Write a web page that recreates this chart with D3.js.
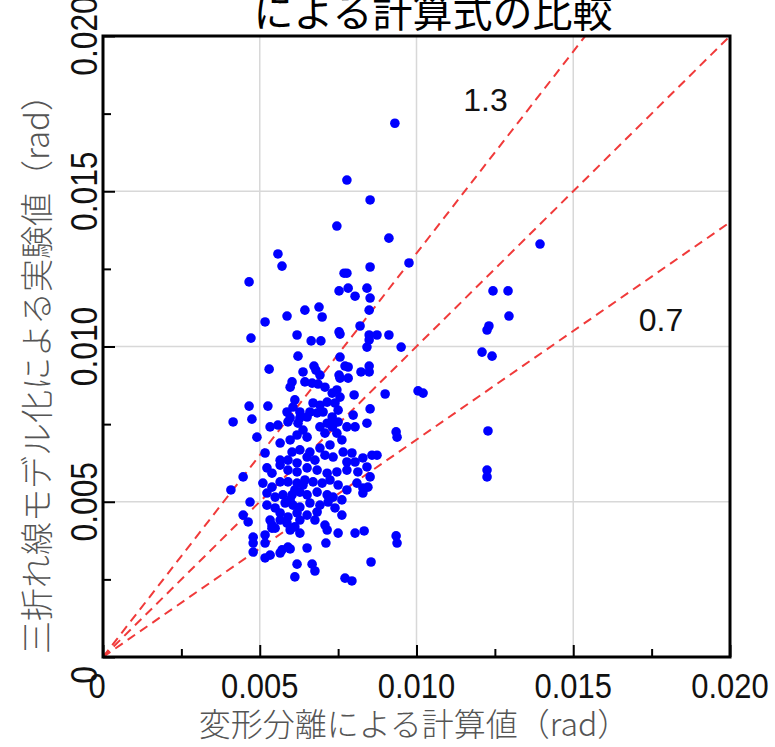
<!DOCTYPE html>
<html>
<head>
<meta charset="utf-8">
<script src="https://cdn.jsdelivr.net/npm/d3@7"></script>
<style>
  body { margin: 0; background: #fff; }
  .tick-label { font-family: "Liberation Sans", Arial, sans-serif; fill: #111; }
  .jp { font-family: "Noto Sans CJK JP", sans-serif; }
</style>
</head>
<body>
<script>
// title and axis titles
var chartTitle = "による計算式の比較";
var xTitle = "変形分離による計算値（rad）";
var yTitle = "三折れ線モデル化による実験値（rad）";

// ticks
var tickValues = [0, 0.005, 0.010, 0.015, 0.020];
var tickLabels = ["0", "0.005", "0.010", "0.015", "0.020"];
var minorTicks = [0.0025, 0.0075, 0.0125, 0.0175];

// ratio lines (calc * ratio)
var ratios = [1.3, 1.0, 0.7];
var ratioLabels = [{ text: "1.3", x: 0.0122, y: 0.0176 }, { text: "0.7", x: 0.0178, y: 0.0105 }];

// measured points: calculated value (x) vs experimental value (y), rad
var xs = [
  0.00931, 0.00778, 0.00852, 0.00746, 0.00912, 0.00558, 0.00571, 0.00466, 0.00769, 0.00778,
  0.00852, 0.00976, 0.00753, 0.00782, 0.00804, 0.00842, 0.00852, 0.00644, 0.00689, 0.00699,
  0.00587, 0.00517, 0.00849, 0.00820, 0.00753, 0.00756, 0.00619, 0.00472, 0.00664, 0.00695,
  0.00849, 0.00874, 0.00849, 0.00912, 0.00842, 0.00951, 0.00622, 0.00756, 0.00530, 0.00673,
  0.00679, 0.00772, 0.00782, 0.00638, 0.00823, 0.00849, 0.00849, 0.00753, 0.00756, 0.00782,
  0.00692, 0.00603, 0.00597, 0.01005, 0.01021, 0.00900, 0.00801, 0.00466, 0.00526, 0.00852,
  0.00415, 0.00475, 0.00842, 0.00935, 0.00938, 0.00491, 0.00533, 0.00558, 0.00565, 0.00447,
  0.00408, 0.00469, 0.00447, 0.00463, 0.00479, 0.00479, 0.00479, 0.00517, 0.00533, 0.00565,
  0.00571, 0.00619, 0.00612, 0.00667, 0.00676, 0.00772, 0.00794, 0.00855, 0.00935, 0.00938,
  0.00804, 0.00833, 0.00750, 0.00711, 0.00628, 0.00590, 0.00597, 0.00651, 0.00517, 0.00517,
  0.00539, 0.00539,
  0.01394, 0.01244, 0.01292, 0.01231, 0.01225, 0.01295, 0.01209, 0.01241, 0.01228, 0.01225,
  0.01225,
  0.00644, 0.00667, 0.00686, 0.00708, 0.00731, 0.00746, 0.00756, 0.00740, 0.00715, 0.00692,
  0.00670, 0.00660, 0.00628, 0.00612, 0.00606, 0.00587, 0.00597, 0.00628, 0.00651, 0.00683,
  0.00702, 0.00731, 0.00750, 0.00750, 0.00731, 0.00715, 0.00798, 0.00804, 0.00778, 0.00590,
  0.00622, 0.00638, 0.00619, 0.00597, 0.00651, 0.00692, 0.00708, 0.00734, 0.00746, 0.00762,
  0.00724, 0.00692, 0.00660, 0.00628, 0.00603, 0.00590, 0.00619, 0.00651, 0.00676, 0.00708,
  0.00734, 0.00766, 0.00794, 0.00778, 0.00804, 0.00829, 0.00858, 0.00874, 0.00842, 0.00852,
  0.00813, 0.00778, 0.00746, 0.00715, 0.00683, 0.00651, 0.00619, 0.00590, 0.00565, 0.00539,
  0.00523, 0.00517, 0.00565, 0.00510, 0.00539, 0.00565, 0.00590, 0.00619, 0.00644, 0.00670,
  0.00699, 0.00724, 0.00750, 0.00778, 0.00810, 0.00829, 0.00845, 0.00829, 0.00523, 0.00549,
  0.00574, 0.00603, 0.00628, 0.00651, 0.00683, 0.00715, 0.00734, 0.00762, 0.00523, 0.00549,
  0.00581, 0.00606, 0.00628, 0.00660, 0.00692, 0.00718, 0.00740, 0.00762, 0.00683, 0.00651,
  0.00619, 0.00590, 0.00565, 0.00533, 0.00587, 0.00612, 0.00676, 0.00708, 0.00715, 0.00549,
  0.00565, 0.00628, 0.00597, 0.00612, 0.00638, 0.00597
];
var ys = [
  0.01719, 0.01536, 0.01472, 0.01388, 0.01349, 0.01298, 0.01259, 0.01208, 0.01236, 0.01236,
  0.01256, 0.01269, 0.01179, 0.01188, 0.01162, 0.01188, 0.01156, 0.01117, 0.01127, 0.01095,
  0.01098, 0.01079, 0.01117, 0.01066, 0.01047, 0.01040, 0.01037, 0.01027, 0.01018, 0.01018,
  0.01037, 0.01037, 0.01021, 0.01037, 0.00998, 0.00998, 0.00969, 0.00966, 0.00927, 0.00937,
  0.00924, 0.00937, 0.00934, 0.00918, 0.00918, 0.00937, 0.00918, 0.00908, 0.00898, 0.00898,
  0.00908, 0.00886, 0.00869, 0.00857, 0.00850, 0.00847, 0.00844, 0.00808, 0.00808, 0.00799,
  0.00757, 0.00766, 0.00753, 0.00725, 0.00708, 0.00708, 0.00741, 0.00747, 0.00689, 0.00580,
  0.00538, 0.00499, 0.00457, 0.00435, 0.00386, 0.00367, 0.00338, 0.00319, 0.00328, 0.00335,
  0.00345, 0.00299, 0.00258, 0.00299, 0.00277, 0.00254, 0.00245, 0.00306, 0.00390, 0.00367,
  0.00399, 0.00406, 0.00399, 0.00367, 0.00399, 0.00354, 0.00348, 0.00351, 0.00393, 0.00367,
  0.00425, 0.00415,
  0.01330, 0.01179, 0.01179, 0.01066, 0.01053, 0.01098, 0.00982, 0.00969, 0.00728, 0.00602,
  0.00580,
  0.00886, 0.00882, 0.00879, 0.00869, 0.00850, 0.00860, 0.00837, 0.00818, 0.00821, 0.00811,
  0.00818, 0.00789, 0.00789, 0.00828, 0.00805, 0.00789, 0.00770, 0.00770, 0.00773, 0.00786,
  0.00789, 0.00773, 0.00795, 0.00757, 0.00741, 0.00753, 0.00779, 0.00741, 0.00741, 0.00757,
  0.00753, 0.00731, 0.00715, 0.00699, 0.00708, 0.00741, 0.00721, 0.00747, 0.00721, 0.00699,
  0.00683, 0.00673, 0.00660, 0.00667, 0.00660, 0.00634, 0.00625, 0.00644, 0.00634, 0.00650,
  0.00644, 0.00660, 0.00657, 0.00628, 0.00628, 0.00641, 0.00650, 0.00650, 0.00612, 0.00580,
  0.00596, 0.00602, 0.00596, 0.00592, 0.00602, 0.00609, 0.00596, 0.00602, 0.00618, 0.00592,
  0.00609, 0.00657, 0.00634, 0.00560, 0.00547, 0.00564, 0.00564, 0.00560, 0.00570, 0.00564,
  0.00560, 0.00570, 0.00554, 0.00538, 0.00560, 0.00544, 0.00547, 0.00528, 0.00528, 0.00515,
  0.00522, 0.00522, 0.00531, 0.00522, 0.00531, 0.00522, 0.00515, 0.00506, 0.00489, 0.00480,
  0.00496, 0.00489, 0.00483, 0.00496, 0.00489, 0.00499, 0.00480, 0.00457, 0.00467, 0.00457,
  0.00464, 0.00451, 0.00464, 0.00441, 0.00431, 0.00419, 0.00441, 0.00425, 0.00409, 0.00415,
  0.00441, 0.00441, 0.00409, 0.00538, 0.00554, 0.00506
];

var width = 775,
    height = 747;

var svg = d3.select("body").append("svg")
    .attr("width", width)
    .attr("height", height);

var x = d3.scaleLinear().domain([0, 0.02]).range([103, 730]);
var y = d3.scaleLinear().domain([0, 0.02]).range([657, 36]);

svg.append("defs").append("clipPath")
    .attr("id", "plotclip")
    .append("rect")
    .attr("x", 103).attr("y", 36)
    .attr("width", 627).attr("height", 621);

// grid
svg.append("g")
    .selectAll("line")
    .data(tickValues.slice(1, 4))
    .enter()
    .append("line")
    .attr("x1", function(d) { return x(d); })
    .attr("x2", function(d) { return x(d); })
    .attr("y1", y(0)).attr("y2", y(0.02))
    .attr("stroke", "#d8d8d8").attr("stroke-width", 1.5);

svg.append("g")
    .selectAll("line")
    .data(tickValues.slice(1, 4))
    .enter()
    .append("line")
    .attr("y1", function(d) { return y(d); })
    .attr("y2", function(d) { return y(d); })
    .attr("x1", x(0)).attr("x2", x(0.02))
    .attr("stroke", "#d8d8d8").attr("stroke-width", 1.5);

// ratio lines
var lineGen = d3.line()
    .x(function(d) { return x(d[0]); })
    .y(function(d) { return y(d[1]); });

svg.append("g")
    .attr("clip-path", "url(#plotclip)")
    .selectAll("path")
    .data(ratios)
    .enter()
    .append("path")
    .attr("d", function(r) { return lineGen([[0, 0], [0.02, 0.02 * r]]); })
    .attr("fill", "none")
    .attr("stroke", "#f03a3a")
    .attr("stroke-width", 2)
    .attr("stroke-dasharray", "9,6");

// points
var pts = xs.map(function(v, i) { return [v, ys[i]]; });
svg.append("g")
    .selectAll("circle")
    .data(pts)
    .enter()
    .append("circle")
    .attr("cx", function(d) { return x(d[0]); })
    .attr("cy", function(d) { return y(d[1]); })
    .attr("r", 4.8)
    .attr("fill", "#0000ff");

// axes: ticks pointing inward
var xAxis = d3.axisTop(x).tickValues(tickValues).tickSize(12).tickFormat("");
svg.append("g").attr("transform", "translate(0," + y(0) + ")").call(xAxis)
    .call(function(g) { g.select(".domain").remove(); })
    .selectAll("line").attr("stroke", "#000").attr("stroke-width", 2);
svg.append("g").attr("transform", "translate(0," + y(0) + ")")
    .call(d3.axisTop(x).tickValues(minorTicks).tickSize(8).tickFormat(""))
    .call(function(g) { g.select(".domain").remove(); })
    .selectAll("line").attr("stroke", "#000").attr("stroke-width", 2);

var yAxis = d3.axisRight(y).tickValues(tickValues).tickSize(12).tickFormat("");
svg.append("g").attr("transform", "translate(" + x(0) + ",0)").call(yAxis)
    .call(function(g) { g.select(".domain").remove(); })
    .selectAll("line").attr("stroke", "#000").attr("stroke-width", 2);
svg.append("g").attr("transform", "translate(" + x(0) + ",0)")
    .call(d3.axisRight(y).tickValues(minorTicks).tickSize(8).tickFormat(""))
    .call(function(g) { g.select(".domain").remove(); })
    .selectAll("line").attr("stroke", "#000").attr("stroke-width", 2);

// frame
svg.append("rect")
    .attr("x", 103).attr("y", 36)
    .attr("width", 627).attr("height", 621)
    .attr("fill", "none")
    .attr("stroke", "#000")
    .attr("stroke-width", 3);

// x tick labels (condensed digits)
svg.append("g")
    .selectAll("text")
    .data(tickValues)
    .enter()
    .append("text")
    .attr("class", "tick-label")
    .attr("transform", function(d, i) {
      var xx = i == 0 ? x(d) - 6 : x(d);
      return "translate(" + xx + ",698) scale(0.86,1)";
    })
    .attr("text-anchor", "middle")
    .attr("font-size", 36)
    .text(function(d, i) { return tickLabels[i]; });

// y tick labels (rotated)
svg.append("g")
    .selectAll("text")
    .data(tickValues)
    .enter()
    .append("text")
    .attr("class", "tick-label")
    .attr("transform", function(d, i) {
      var yy = i == 0 ? y(d) + 18 : y(d);
      return "translate(97," + yy + ") rotate(-90) scale(0.86,1)";
    })
    .attr("text-anchor", "middle")
    .attr("font-size", 37)
    .text(function(d, i) { return tickLabels[i]; });

// ratio labels
svg.append("g")
    .selectAll("text")
    .data(ratioLabels)
    .enter()
    .append("text")
    .attr("class", "tick-label")
    .attr("x", function(d) { return x(d.x); })
    .attr("y", function(d) { return y(d.y); })
    .attr("text-anchor", "middle")
    .attr("font-size", 32)
    .text(function(d) { return d.text; });

// titles
svg.append("text")
    .attr("class", "jp")
    .attr("x", 433).attr("y", 27)
    .attr("text-anchor", "middle")
    .attr("font-size", 40)
    .attr("fill", "#000")
    .text(chartTitle);

svg.append("text")
    .attr("class", "jp")
    .attr("x", 414).attr("y", 736)
    .attr("text-anchor", "middle")
    .attr("font-size", 32)
    .attr("font-weight", 300)
    .attr("fill", "#555")
    .text(xTitle);

svg.append("text")
    .attr("class", "jp")
    .attr("transform", "translate(49,366) rotate(-90)")
    .attr("text-anchor", "middle")
    .attr("font-size", 33)
    .attr("font-weight", 300)
    .attr("fill", "#555")
    .text(yTitle);
</script>
</body>
</html>
